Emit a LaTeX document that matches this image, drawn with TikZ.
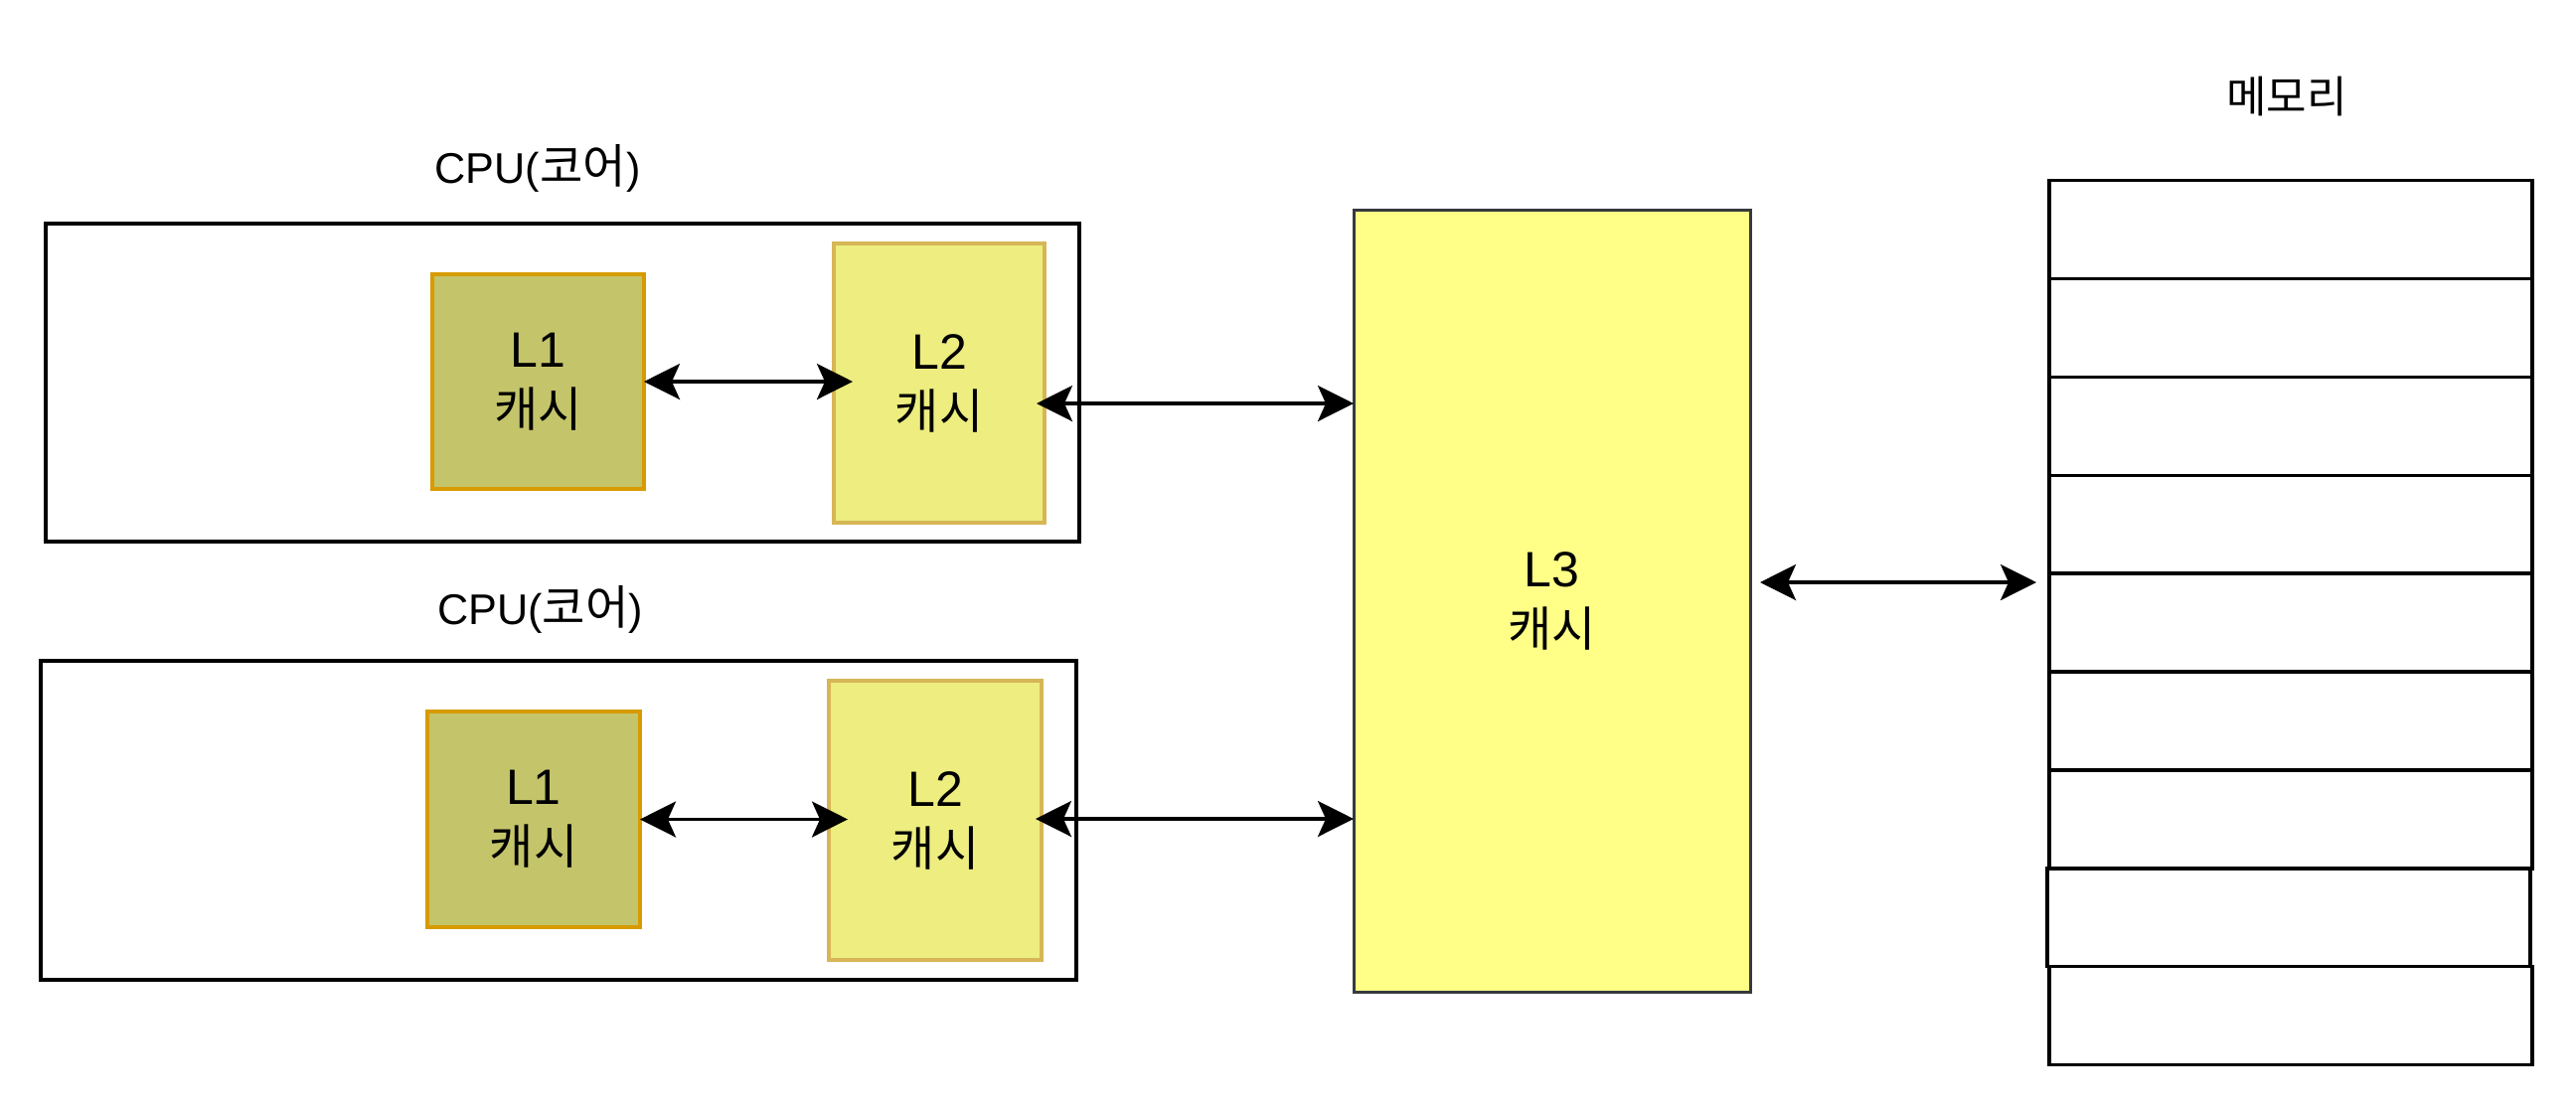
\documentclass[tikz,border=0pt]{standalone}
\usepackage{fontspec}
\setmainfont{Liberation Sans}
\newfontfamily\kr{Noto Sans CJK KR}
\usetikzlibrary{arrows.meta,calc}
\definecolor{lonef}{HTML}{C4C46B}
\definecolor{lones}{HTML}{D79B00}
\definecolor{ltwof}{HTML}{EDED80}
\definecolor{ltwos}{HTML}{D6B656}
\definecolor{lthreef}{HTML}{FFFF88}
\definecolor{lthrees}{HTML}{36393D}
\begin{document}
\begin{tikzpicture}[x=0.25pt,y=-0.25pt,
  box/.style={draw, line width=0.85pt, inner sep=0pt, outer sep=0pt, align=center,
    font=\fontsize{12.5}{15}\selectfont},
  cpubox/.style={box, draw=black, fill=white},
  lonebox/.style={box, draw=lones, fill=lonef},
  ltwobox/.style={box, draw=ltwos, fill=ltwof},
  lthreebox/.style={box, draw=lthrees, fill=lthreef, line width=0.75pt},
  memrow/.style={box, draw=black, fill=white, minimum width=486*0.25pt, minimum height=98.9*0.25pt},
  lbl/.style={inner sep=0pt, font=\fontsize{10.8}{12}\selectfont},
  biarrow/.style={line width=0.85pt,
    {Stealth[length=9pt,width=9pt,inset=2pt]}-{Stealth[length=9pt,width=9pt,inset=2pt]}}
]
\useasboundingbox (0,0) rectangle (2592,1116);
\fill[white] (0,0) rectangle (2592,1116);

% CPU boxes
\node[cpubox, minimum width=1040*0.25pt, minimum height=320*0.25pt] (cpuA) at (566,385) {};
\node[cpubox, minimum width=1042*0.25pt, minimum height=321*0.25pt] (cpuB) at (562,825.5) {};

% labels
\node[lbl, anchor=base] (cpuAlbl) at (541,184) {CPU({\kr\fontsize{11.8}{12}\selectfont 코어})};
\node[lbl, anchor=base] (cpuBlbl) at (543.5,628.5) {CPU({\kr\fontsize{11.8}{12}\selectfont 코어})};
\node[lbl] (memlbl) at (2301,97.5) {{\kr\fontsize{11}{12}\selectfont 메모리}};

% caches
\node[lonebox, minimum width=213*0.25pt, minimum height=216*0.25pt] (L1a) at (541.5,384) {L1\\{\kr\fontsize{12}{15}\selectfont 캐시}};
\node[ltwobox, minimum width=212*0.25pt, minimum height=281*0.25pt] (L2a) at (945,385.5) {L2\\{\kr\fontsize{12}{15}\selectfont 캐시}};
\node[lonebox, minimum width=214*0.25pt, minimum height=217*0.25pt] (L1b) at (537,824.5) {L1\\{\kr\fontsize{12}{15}\selectfont 캐시}};
\node[ltwobox, minimum width=214*0.25pt, minimum height=281*0.25pt] (L2b) at (941,825.5) {L2\\{\kr\fontsize{12}{15}\selectfont 캐시}};
\node[lthreebox, minimum width=399*0.25pt, minimum height=787*0.25pt] (L3) at (1561.5,604.5) {L3\\{\kr\fontsize{12}{15}\selectfont 캐시}};

% memory
\foreach \i in {1,...,9} {
  \pgfmathsetmacro{\mx}{\i==8 ? 2303 : 2305}
  \node[memrow] (m\i) at (\mx,{181.5+98.9*(\i-0.5)}) {};
}

% arrows
\draw[biarrow] (L1a.east) -- ($(L1a.east -| L2a.west)+(19,0)$);
\coordinate (a2a) at ($(L2a.east)+(-8,20.5)$);
\draw[biarrow] (a2a) -- (a2a -| L3.west);
\draw[biarrow] (L1b.east) -- ($(L1b.east -| L2b.west)+(19,0)$);
\coordinate (a2b) at ($(L2b.east)+(-6,-1.5)$);
\draw[biarrow] (a2b) -- (a2b -| L3.west);
\coordinate (a3) at ($(L3.east)+(10,-18.5)$);
\draw[biarrow] (a3) -- ($(a3 -| m5.west)+(-13,0)$);
\end{tikzpicture}
\end{document}
